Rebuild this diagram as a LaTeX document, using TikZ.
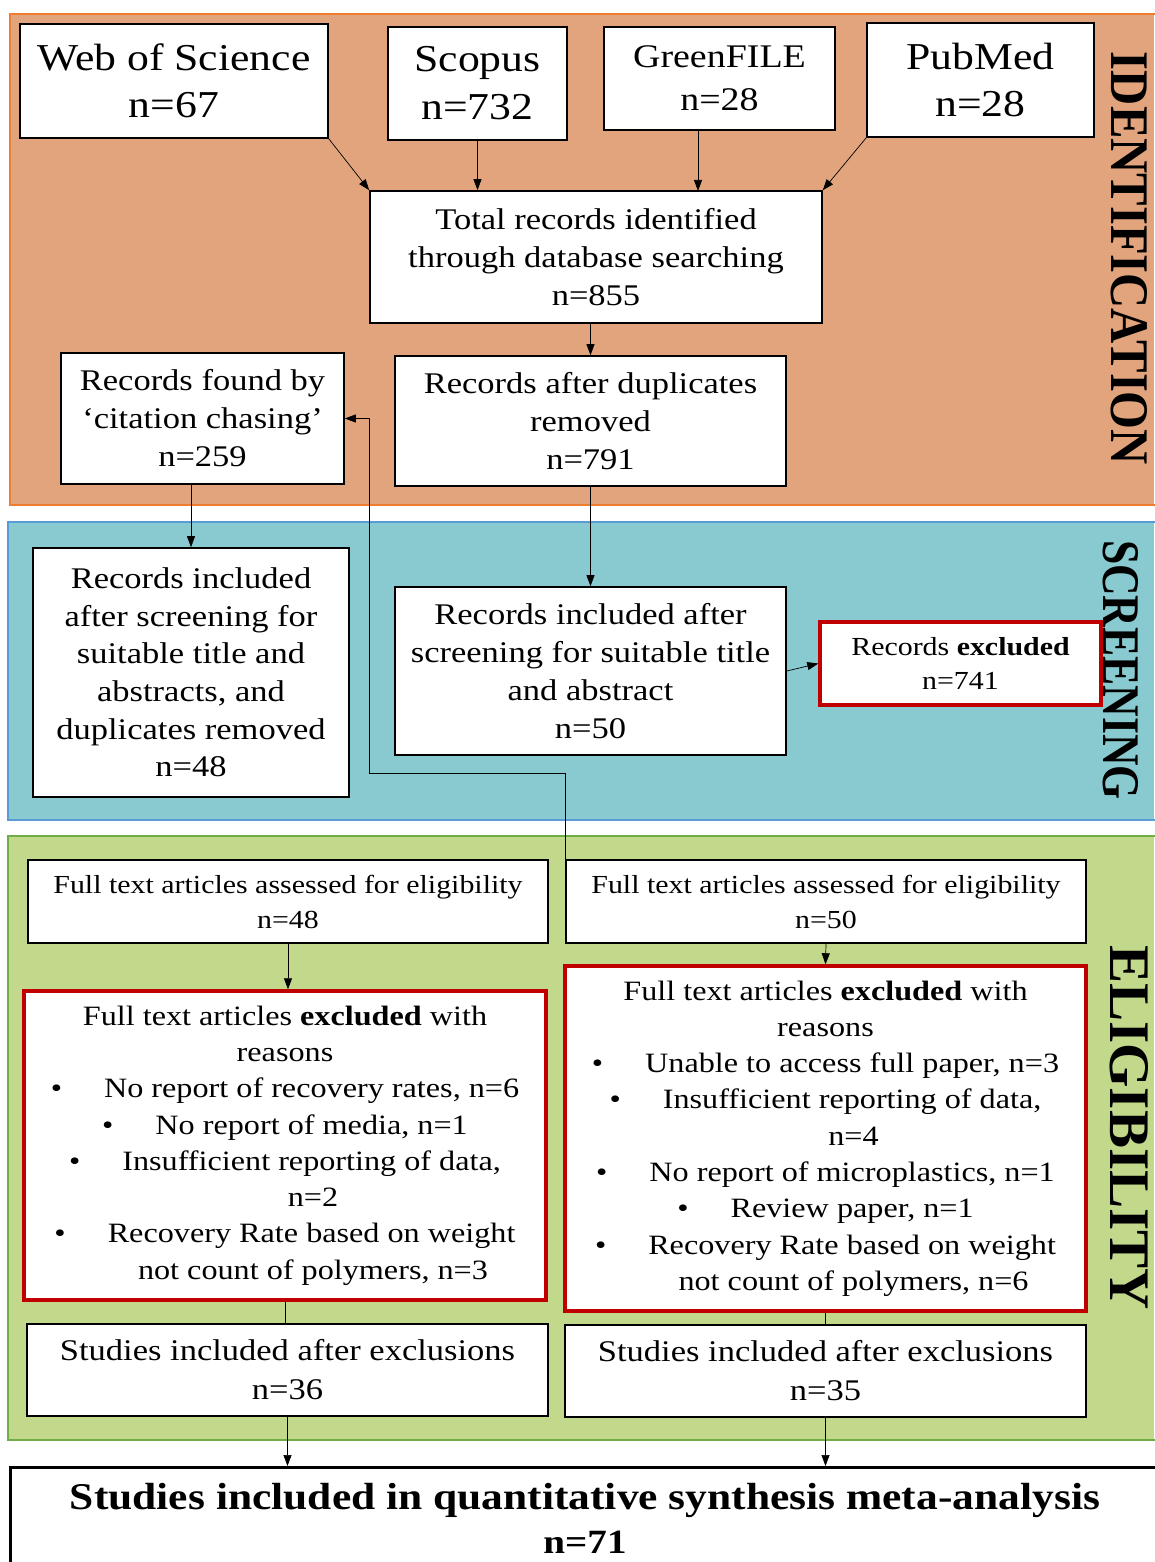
\documentclass[tikz,border=0pt]{standalone}
\usepackage{fontspec}
\setmainfont{Liberation Serif}[FakeStretch=1.15]
\usetikzlibrary{arrows.meta}
\definecolor{idfill}{HTML}{E2A47C}
\definecolor{idline}{HTML}{ED7D31}
\definecolor{scfill}{HTML}{88CACF}
\definecolor{scline}{HTML}{5B9BD5}
\definecolor{elfill}{HTML}{C2D88A}
\definecolor{elline}{HTML}{70AD47}
\definecolor{exred}{HTML}{C00000}
\newcommand\fsz[2]{\fontsize{#1}{#2}\selectfont}
\begin{document}
\begin{tikzpicture}[x=1pt,y=-1pt,
  box/.style={draw=black, line width=1.6pt, fill=white, align=center, inner sep=0pt},
  redbox/.style={draw=exred, line width=3.5pt, fill=white, align=center, inner sep=0pt},
  band/.style={line width=1.8pt},
  arr/.style={line width=0.7pt, -{Triangle[length=11pt,width=8pt]}},
  ln/.style={line width=0.7pt},
  side/.style={rotate=-90, inner sep=0pt}]
\useasboundingbox (0,0) rectangle (1154,1562);
% bands
\fill[idfill] (10,14) rectangle (1154,505);
\draw[idline,band] (1160,14) -- (10,14) -- (10,505) -- (1160,505);
\fill[scfill] (8,522) rectangle (1154,820);
\draw[scline,band] (1160,522) -- (8,522) -- (8,820) -- (1160,820);
\fill[elfill] (8,836) rectangle (1154,1440);
\draw[elline,band] (1160,836) -- (8,836) -- (8,1440) -- (1160,1440);
% side labels
\node[side] (lid) at (1129,258.5) {\resizebox{413pt}{36pt}{\bfseries IDENTIFICATION}};
\node[side] (lsc) at (1121,670) {\resizebox{260pt}{35pt}{\bfseries SCREENING}};
\node[side] (lel) at (1129,1127.5) {\resizebox{365pt}{38pt}{\bfseries ELIGIBILITY}};
% identification
\node[box, minimum width=308pt, minimum height=114pt, font=\fsz{38}{47}] (wos) at (174,81) {Web of Science\\n=67};
\node[box, minimum width=179pt, minimum height=113pt, font=\fsz{38}{48}] (sco) at (477.5,83.5) {Scopus\\n=732};
\node[box, minimum width=231pt, minimum height=103pt, font=\fsz{33}{43}] (grf) at (719.5,78.5) {GreenFILE\\n=28};
\node[box, minimum width=227pt, minimum height=114pt, font=\fsz{38}{47}] (pub) at (980.5,80) {PubMed\\n=28};
\node[box, minimum width=452pt, minimum height=132pt, font=\fsz{30}{38}] (tot) at (596,257) {Total records identified\\through database searching\\n=855};
\node[box, minimum width=391pt, minimum height=130pt, font=\fsz{30}{38}] (dup) at (590.5,421) {Records after duplicates\\removed\\n=791};
\node[box, minimum width=283pt, minimum height=131pt, font=\fsz{30}{38}] (cit) at (202.5,418.5) {Records found by\\‘citation chasing’\\n=259};
% screening
\node[box, minimum width=316pt, minimum height=249pt, font=\fsz{30}{37.6}] (incl) at (191,672.5) {Records included\\after screening for\\suitable title and\\abstracts, and\\duplicates removed\\n=48};
\node[box, minimum width=391pt, minimum height=168pt, font=\fsz{30}{38}] (incm) at (590.5,671) {Records included after\\screening for suitable title\\and abstract\\n=50};
\node[redbox, minimum width=281pt, minimum height=83pt, font=\fsz{26}{34}] (rex) at (960.5,663.5) {Records \textbf{excluded}\\n=741};
% eligibility
\node[box, minimum width=520pt, minimum height=83pt, font=\fsz{26}{35}] (ftl) at (288,901.5) {Full text articles assessed for eligibility\\n=48};
\node[box, minimum width=520pt, minimum height=83pt, font=\fsz{26}{35}] (ftr) at (826,901.5) {Full text articles assessed for eligibility\\n=50};
\node[redbox, minimum width=522pt, minimum height=309pt, font=\fsz{28}{36.3}] (exl) at (285,1145.5) {Full text articles \textbf{excluded} with\\reasons\\•\hspace{1.5em}No report of recovery rates, n=6\\•\hspace{1.5em}No report of media, n=1\\•\hspace{1.5em}Insufficient reporting of data,\\\hspace{2em}n=2\\•\hspace{1.5em}Recovery Rate based on weight\\\hspace{2em}not count of polymers, n=3};
\node[redbox, minimum width=521pt, minimum height=345pt, font=\fsz{28}{36.3}] (exr) at (825.5,1138.5) {Full text articles \textbf{excluded} with\\reasons\\•\hspace{1.5em}Unable to access full paper, n=3\\•\hspace{1.5em}Insufficient reporting of data,\\\hspace{2em}n=4\\•\hspace{1.5em}No report of microplastics, n=1\\•\hspace{1.5em}Review paper, n=1\\•\hspace{1.5em}Recovery Rate based on weight\\\hspace{2em}not count of polymers, n=6};
\node[box, minimum width=521pt, minimum height=92pt, font=\fsz{30}{39}] (stl) at (287.5,1370) {Studies included after exclusions\\n=36};
\node[box, minimum width=521pt, minimum height=92pt, font=\fsz{30}{39}] (str) at (825.5,1371) {Studies included after exclusions\\n=35};
% final
\node[box, line width=2.5pt, minimum width=1152pt, minimum height=110pt, anchor=north west] (fin) at (9,1466) {};
\node[inner sep=0pt, font=\fsz{34}{44}\bfseries, align=center] (fint) at (585,1518) {\resizebox{1030pt}{!}{Studies included in quantitative synthesis meta-analysis}\\n=71};
% connectors
\draw[arr] (wos.south east) -- (tot.north west);
\draw[arr] (sco.south) -- (sco.south |- tot.north);
\draw[arr] (grf.south -| 698,0) -- (698,191);
\draw[arr] (pub.south west) -- (tot.north east);
\draw[arr] (tot.south -| dup.north) -- (dup.north);
\draw[arr] (dup.south) -- (incm.north);
\draw[arr] (cit.south -| incl.north) -- (incl.north);
\draw[arr] (incm.east) -- (rex.west);
\coordinate (cc) at (369,773);
\draw[arr] (ftr.north west) -- (ftr.north west |- cc) -- (cc) |- (cit.east);
\draw[arr] (ftl.south) -- (ftl.south |- exl.north);
\draw[ln] (exl.south) -- (exl.south |- stl.north);
\draw[arr] (ftr.south) -- (exr.north);
\draw[ln] (exr.south) -- (str.north);
\draw[arr] (stl.south) -- (stl.south |- fin.north);
\draw[arr] (str.south) -- (str.south |- fin.north);
\end{tikzpicture}
\end{document}
